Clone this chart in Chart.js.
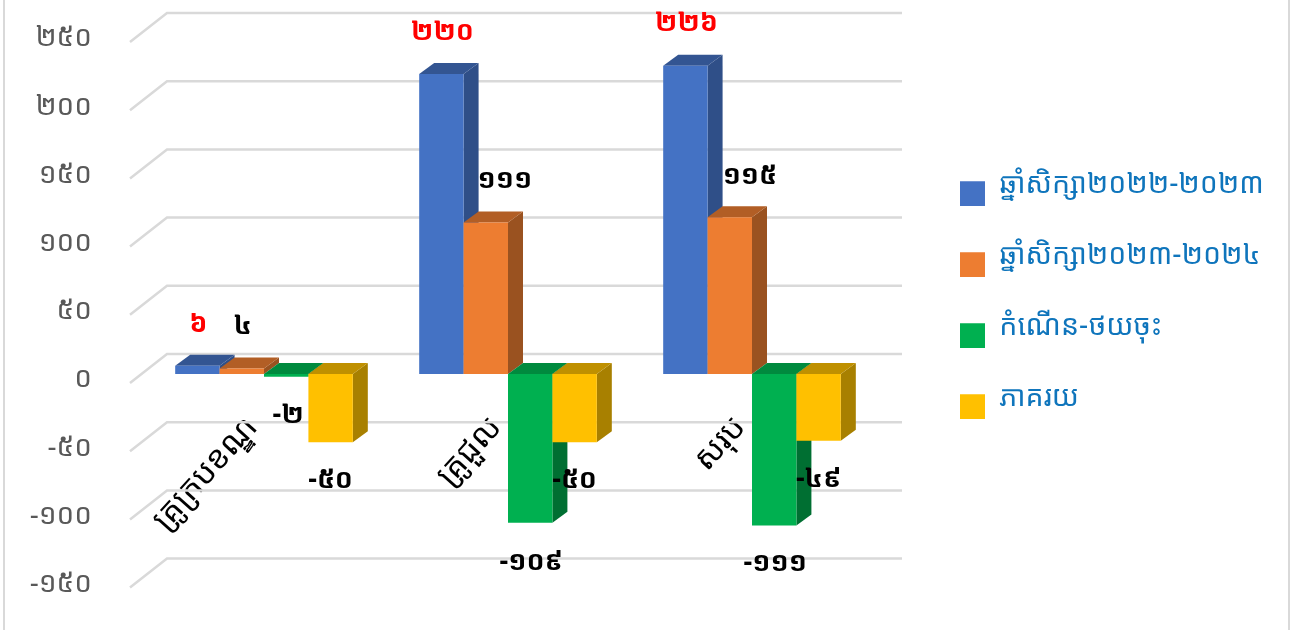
<!DOCTYPE html>
<html><head><meta charset="utf-8">
<style>html,body{margin:0;padding:0;background:#fff}#w{position:relative;width:1290px;height:630px;overflow:hidden}</style>
<script src="https://cdn.jsdelivr.net/npm/chart.js@4/dist/chart.umd.min.js"></script>
</head><body><div id="w"><canvas id="c" width="1290" height="630"></canvas></div>
<script>
const categories = ['គ្រូក្របខណ្ឌ','គ្រូជួល','សរុប'];
const seriesNames = ['ឆ្នាំសិក្សា២០២២-២០២៣','ឆ្នាំសិក្សា២០២៣-២០២៤','កំណើន-ថយចុះ','ភាគរយ'];
const schoolYear2223 = [6,220,226];
const schoolYear2324 = [4,111,115];
const growthDecline = [-2,-109,-111];
const percentage = [-50,-50,-49];
const yTicks = [250,200,150,100,50,0,-50,-100,-150];
const K = n => String(n).replace(/\d/g,d=>'០១២៣៤៥៦៧៨៩'[d]);
const FONT = '"Noto Sans Khmer","Khmer OS","Noto Sans",sans-serif';
const faces = [['#4472c4','#2f4f88','#335592'],['#ed7d31','#9a5220','#b25e25'],['#00b050','#006f32','#008a3e'],['#ffc000','#a88000','#bf9000']];
const SHIFT = 5.5;
function swatch(col){const s=document.createElement('canvas');s.width=25;s.height=43;const x=s.getContext('2d');x.fillStyle=col;x.fillRect(0,18,25,25);return s}
new Chart(document.getElementById('c'),{
 type:'bar',
 data:{labels:categories,datasets:[schoolYear2223,schoolYear2324,growthDecline,percentage].map((d,i)=>({label:seriesNames[i],data:d,backgroundColor:faces[i][0],borderWidth:0}))},
 options:{responsive:false,animation:false,
  layout:{padding:{left:0,right:0,top:38.5,bottom:45.9}},
  datasets:{bar:{categoryPercentage:.728,barPercentage:1}},
  plugins:{legend:{display:true,position:'right',align:'start',labels:{usePointStyle:true,boxWidth:25,boxHeight:25,color:'#0f75bc',font:{size:28.5,family:FONT},padding:42.5,
     generateLabels:ch=>ch.data.datasets.map((d,i)=>({text:d.label,fontColor:'#0f75bc',fillStyle:d.backgroundColor,pointStyle:swatch(d.backgroundColor),lineWidth:0,datasetIndex:i}))}},tooltip:{enabled:false}},
  scales:{
   y:{min:-150,max:250,afterFit:s=>{s.width=142;s.paddingTop=0;s.paddingBottom=0},grid:{display:false},border:{display:false},
      afterBuildTicks:s=>{s.ticks=yTicks.map(v=>({value:v}))},
      ticks:{padding:42,color:'#595959',font:{size:28,family:FONT},callback:v=>K(v)}},
   x:{position:{y:-16},grid:{display:false},border:{display:false},
      ticks:{autoSkip:false,minRotation:48,maxRotation:48,padding:0,labelOffset:-12,color:'#000',font:{size:32,family:FONT}}}
  }
 },
 plugins:[{id:'td',
  beforeLayout(ch){const L=ch.legend;if(L&&!L._p){L._p=1;const o=L.fit;L.fit=function(){o.call(this);this.width=416}}},
  afterLayout(ch){const L=ch.legend;L.left=917.5;L.right=1290;L.top=128;L.bottom=630;},
  beforeDatasetsDraw(ch){
   const c=ch.ctx,y=ch.scales.y;c.save();c.strokeStyle='#d9d9d9';c.lineWidth=2.5;
   yTicks.forEach(v=>{const p=y.getPixelForValue(v)-SHIFT;c.beginPath();c.moveTo(130,p+9);c.lineTo(167,p-20);c.lineTo(902,p-20);c.stroke()});
   c.restore();
  },
  beforeDatasetDraw(){return false},
  afterDatasetsDraw(ch){
   const c=ch.ctx,dx=15,dy=11;
   c.save();c.translate(0,-SHIFT);
   ch.data.datasets.forEach((d,i)=>{const f=faces[i];
    ch.getDatasetMeta(i).data.forEach(b=>{const l=b.x-b.width/2,r=b.x+b.width/2,t=Math.min(b.y,b.base),u=Math.max(b.y,b.base);
     c.fillStyle=f[1];c.beginPath();c.moveTo(r,t);c.lineTo(r+dx,t-dy);c.lineTo(r+dx,u-dy);c.lineTo(r,u);c.closePath();c.fill();
     c.fillStyle=f[2];c.beginPath();c.moveTo(l,t);c.lineTo(l+dx,t-dy);c.lineTo(r+dx,t-dy);c.lineTo(r,t);c.closePath();c.fill();
     b.draw(c);});});
   c.restore();c.save();
   const off=[[[1,-42],[1,-42],[2,39],[0,38]],[[1,-42],[19,-42],[1,40],[0,38]],[[1,-42],[20,-41],[1,38],[0,38]]];
   const red=[[1,0,0,0],[1,0,0,0],[1,0,0,0]];
   c.textAlign='center';c.textBaseline='middle';c.font='bold 27px '+FONT;
   ch.data.datasets.forEach((d,i)=>{ch.getDatasetMeta(i).data.forEach((b,j)=>{
     const o=off[j][i];const base=d.data[j]<0?Math.max(b.y,b.base):Math.min(b.y,b.base);
     c.fillStyle=red[j][i]?'#ff0000':'#000';c.fillText(K(d.data[j]),b.x+o[0],base-SHIFT+o[1]);});});
   c.restore();
   c.save();c.strokeStyle='#d9d9d9';c.lineWidth=2;c.beginPath();c.moveTo(4,0);c.lineTo(4,630);c.moveTo(1289,0);c.lineTo(1289,630);c.stroke();c.restore();
  }
 }]
});
</script></body></html>
